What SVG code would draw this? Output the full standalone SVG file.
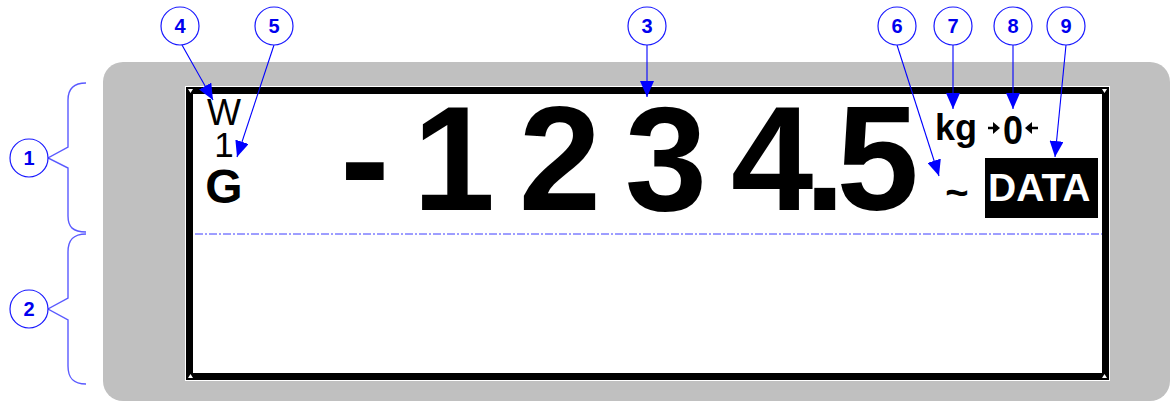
<svg xmlns="http://www.w3.org/2000/svg" width="1173" height="403" viewBox="0 0 1173 403">
  <defs>
    <style>
      .callout circle { fill: #ffffff; stroke: #1a1aff; stroke-width: 1.2; }
      .callout text { font-family: "Liberation Sans", Arial, sans-serif; font-weight: bold; font-size: 20px; fill: #0000ee; text-anchor: middle; }
      .lead { stroke: #0000ff; stroke-width: 1.1; fill: none; marker-end: url(#ah); }
      .brace { stroke: #5a5aff; stroke-width: 1.4; fill: none; }
      .lcd { font-family: "Liberation Sans", Arial, sans-serif; fill: #000000; }
      .big { font-weight: bold; font-size: 148px; text-anchor: middle; }
    </style>
    <marker id="ah" markerUnits="userSpaceOnUse" markerWidth="16" markerHeight="14" refX="16" refY="7" orient="auto">
      <path d="M0,0 L16,7 L0,14 z" fill="#0000ff"/>
    </marker>
  </defs>

  <rect width="1173" height="403" fill="#ffffff"/>

  <g id="panel">
    <rect x="103" y="62" width="1067" height="339" rx="20" ry="20" fill="#c0c0c0"/>
    <rect x="185" y="86" width="925" height="295" fill="#ffffff"/>
    <rect x="189.5" y="90.5" width="916" height="286" fill="#ffffff" stroke="#000000" stroke-width="7"/>
    <path d="M188,89 l5,0 l-2.5,4 z M1107,89 l-5,0 l2.5,4 z M188,378 l5,0 l-2.5,-4 z M1107,378 l-5,0 l2.5,-4 z" fill="#ffffff"/>
    <line x1="195" y1="234" x2="1102" y2="234" stroke="#3c3cff" stroke-width="1" stroke-dasharray="8 2 2 2"/>
  </g>

  <g id="display" class="lcd">
    <text><tspan x="207" y="125" font-size="36">W</tspan><tspan x="224" y="157" font-size="35" text-anchor="middle">1</tspan><tspan x="224" y="203" font-size="48" font-weight="bold" text-anchor="middle">G</tspan></text>
    <text class="big" x="365" y="210">-</text>
    <text class="big" x="454" y="210">1</text>
    <text class="big" x="560" y="210">2</text>
    <text class="big" x="666" y="210">3</text>
    <text x="731" y="210" font-size="148" font-weight="bold" letter-spacing="-9">4.5</text>
    <text x="935" y="140" font-size="36" font-weight="bold">kg</text>
    <text x="1003" y="144" font-size="41" font-weight="bold" textLength="20" lengthAdjust="spacingAndGlyphs">0</text>
    <path d="M988,128 h6" stroke="#000" stroke-width="2.5"/>
    <path d="M993,122 l7,6 l-7,6 z" fill="#000"/>
    <path d="M1031,128 h7" stroke="#000" stroke-width="2.5"/>
    <path d="M1032,122 l-7,6 l7,6 z" fill="#000"/>
    <text x="957" y="206" font-size="40" font-weight="bold" text-anchor="middle">~</text>
    <rect x="985" y="158" width="113" height="60" fill="#000000"/>
    <text x="988" y="201" font-size="39" font-weight="bold" fill="#ffffff">DATA</text>
  </g>

  <g id="connectors">
    <line class="lead" x1="182" y1="45" x2="213" y2="100"/>
    <line class="lead" x1="274" y1="45" x2="237" y2="157"/>
    <line class="lead" x1="647" y1="45" x2="647" y2="97"/>
    <line class="lead" x1="897" y1="45" x2="939" y2="176"/>
    <line class="lead" x1="953" y1="45" x2="953" y2="109"/>
    <line class="lead" x1="1013" y1="45" x2="1013" y2="109"/>
    <line class="lead" x1="1066" y1="45" x2="1055" y2="157"/>
    <path class="brace" d="M86,83 C73,83 68,89 68,100 L68,147 L48,158 L68,168 L68,216 C68,227 73,232 86,232"/>
    <path class="brace" d="M86,234 C73,234 68,240 68,252 L68,298 L48,309 L68,320 L68,366 C68,378 73,384 86,384"/>
  </g>

  <g id="c1" class="callout"><circle cx="29" cy="158" r="19"/><text x="29" y="165">1</text></g>
  <g id="c2" class="callout"><circle cx="29" cy="309" r="19"/><text x="29" y="316">2</text></g>
  <g id="c3" class="callout"><circle cx="647" cy="26" r="19"/><text x="647" y="33">3</text></g>
  <g id="c4" class="callout"><circle cx="180" cy="26" r="19"/><text x="180" y="33">4</text></g>
  <g id="c5" class="callout"><circle cx="274" cy="26" r="19"/><text x="274" y="33">5</text></g>
  <g id="c6" class="callout"><circle cx="897" cy="26" r="19"/><text x="897" y="33">6</text></g>
  <g id="c7" class="callout"><circle cx="953" cy="26" r="19"/><text x="953" y="33">7</text></g>
  <g id="c8" class="callout"><circle cx="1013" cy="26" r="19"/><text x="1013" y="33">8</text></g>
  <g id="c9" class="callout"><circle cx="1066" cy="26" r="19"/><text x="1066" y="33">9</text></g>
</svg>
